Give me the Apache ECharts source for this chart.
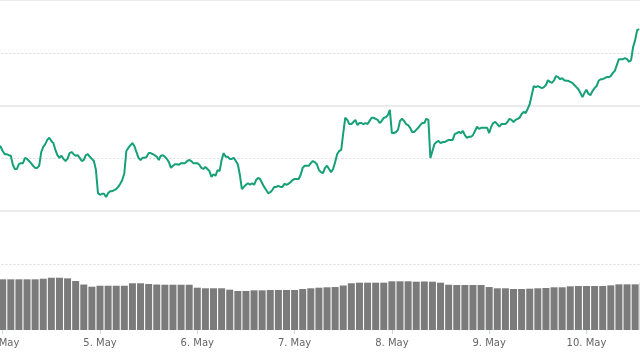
<!DOCTYPE html>
<html><head><meta charset="utf-8">
<script src="https://cdn.jsdelivr.net/npm/echarts@6/dist/echarts.min.js"></script>
<style>html,body{margin:0;padding:0;background:#fff}#c{width:640px;height:360px}</style>
</head><body><div id="c"></div>
<script>
// x values are hours since 4 May 00:00
const monthName = 'May';
const firstDay = 4;
const priceStartHour = -1;
const priceStepHours = 0.5;
const prices = [
  122.5,122.2,121.4,120.8,120.8,120.6,120.5,118.8,118.0,118.0,118.9,119.1,119.1,120.1,119.9,119.5,119.1,118.6,118.2,118.2,118.6,121.2,122.2,122.7,123.5,
  123.9,123.3,122.9,121.6,120.6,120.1,120.5,119.9,119.5,119.9,121.0,121.2,120.8,120.5,120.6,120.1,119.5,119.7,120.6,120.8,120.3,119.9,119.5,117.8,113.4,
  113.1,113.3,113.3,112.7,113.4,113.8,113.8,114.0,114.2,114.6,115.2,115.9,117.2,121.4,122.0,122.5,122.9,122.3,121.2,120.1,119.7,120.1,120.1,120.3,
  121.0,121.0,120.8,120.6,120.3,119.7,120.5,120.6,120.3,119.9,119.3,118.2,118.6,118.9,118.9,118.8,119.1,119.1,119.1,119.5,119.7,119.5,119.1,119.1,
  119.1,118.8,118.2,118.0,118.4,118.0,117.6,116.5,117.0,116.7,117.8,117.6,119.7,121.0,120.3,120.3,119.9,119.9,120.1,119.5,118.9,116.9,114.2,114.6,
  115.0,115.3,115.0,115.3,115.0,115.9,116.3,116.1,115.3,114.6,114.0,113.4,113.6,114.0,114.6,114.6,114.8,114.6,114.6,115.2,115.0,115.2,115.5,115.9,
  116.1,116.1,116.1,116.9,118.2,118.6,118.6,118.6,119.1,119.5,119.3,118.9,117.8,117.4,117.2,118.2,118.6,118.0,117.4,118.0,119.3,120.8,121.4,121.6,
  124.8,127.7,127.3,126.5,126.5,126.9,127.3,126.3,126.7,126.7,126.5,126.7,126.5,127.1,127.7,127.7,127.5,127.3,126.7,127.1,127.7,127.8,128.2,129.2,
  124.8,124.8,125.0,125.4,127.1,127.5,127.1,126.5,126.3,125.8,125.0,125.0,125.4,125.8,126.3,126.7,126.7,127.5,127.3,120.1,121.4,122.7,123.1,123.3,
  122.9,123.1,123.1,123.3,123.5,123.5,123.5,124.6,124.8,125.0,124.8,125.2,124.4,123.9,124.1,124.1,124.4,125.2,126.0,125.6,125.8,125.8,125.8,125.8,
  124.8,126.0,126.7,126.9,126.5,126.0,126.5,126.5,126.5,126.9,127.5,127.3,126.9,127.3,127.5,127.7,128.4,128.8,128.6,129.4,130.3,132.0,133.7,133.5,
  133.7,133.5,133.3,133.5,133.9,134.8,134.5,134.3,134.8,135.6,135.4,135.0,135.2,134.8,134.7,134.7,134.5,134.3,133.9,133.5,133.1,132.4,131.6,132.4,
  133.0,132.2,132.0,132.8,133.3,133.7,134.7,135.0,135.0,135.2,135.4,135.4,135.6,136.2,136.6,137.7,138.8,138.8,138.8,139.0,138.8,138.3,138.6,141.1,
  142.4,144.3,144.5
];
const volumeStartHour = 0;
const volumeStepHours = 2;
const volumes = [
  76.8,76.8,76.8,76.8,76.8,77.7,79.2,79.2,78.3,74.2,68.9,65.6,
  67.1,67.1,67.1,67.1,70.8,70.8,69.7,68.9,68.6,68.6,68.6,68.6,
  64.1,63.2,63.2,63.2,61.1,59.1,59.1,60.1,60.1,60.6,60.6,60.6,
  60.6,62.1,63.2,64.1,64.7,65.1,67.4,70.8,71.7,71.7,71.7,71.7,
  73.8,73.8,73.8,73.2,73.5,73.2,71.7,68.6,68.2,68.2,68.2,68.2,
  65.1,63.2,63.2,62.1,62.1,62.6,63.2,63.6,64.7,64.7,66.2,66.7,
  66.7,66.7,66.7,67.7,69.2,69.2,69.2,71.7
];
const priceMin = 100, priceMax = 150, priceStep = 10;
const solidPriceLines = [110, 130, 150];
const volumeMax = 100;
const xMin = -24, xMax = 157.2, xStep = 24;

const priceData = prices.map((p, i) => [priceStartHour + i * priceStepHours, p]);
const volumeData = volumes.map((v, i) => [volumeStartHour + i * volumeStepHours, v]);

const chart = echarts.init(document.getElementById('c'), null, {renderer: 'canvas'});
const gridLeft = -94.6, gridWidth = 734.6;
chart.setOption({
  animation: false,
  backgroundColor: '#ffffff',
  grid: [
    {left: gridLeft, width: gridWidth, top: 0, height: 264, outerBoundsMode: 'none', containLabel: false},
    {left: gridLeft, width: gridWidth, top: 264, height: 66, outerBoundsMode: 'none', containLabel: false}
  ],
  xAxis: [
    {type: 'value', gridIndex: 0, min: xMin, max: xMax, interval: xStep,
     axisLine: {show: false}, axisTick: {show: false}, axisLabel: {show: false}, splitLine: {show: false}},
    {type: 'value', gridIndex: 1, min: xMin, max: xMax, interval: xStep,
     axisLine: {show: false},
     axisTick: {show: true, length: 4, lineStyle: {color: '#ccd6eb'}},
     axisLabel: {show: true, color: '#666666', fontSize: 10, fontFamily: 'DejaVu Sans', margin: 8,
       formatter: v => (v % 24 === 0) ? (firstDay + v / 24) + '. ' + monthName : ''},
     splitLine: {show: false}}
  ],
  yAxis: [
    {type: 'value', gridIndex: 0, min: priceMin, max: priceMax, interval: priceStep,
     axisLine: {show: false}, axisTick: {show: false}, axisLabel: {show: false},
     splitLine: {show: true, lineStyle: {color: '#dcdcdc', type: [2, 2], width: 1}}},
    {type: 'value', gridIndex: 1, min: 0, max: volumeMax,
     axisLine: {show: false}, axisTick: {show: false}, axisLabel: {show: false}, splitLine: {show: false}}
  ],
  series: [
    {type: 'bar', xAxisIndex: 1, yAxisIndex: 1, data: volumeData, barWidth: 7,
     itemStyle: {color: '#7b7b7b'}, silent: true},
    {type: 'line', xAxisIndex: 0, yAxisIndex: 0, data: priceData, showSymbol: false,
     lineStyle: {color: '#15a077', width: 2}, itemStyle: {color: '#15a077'}, z: 5,
     markLine: {silent: true, symbol: 'none', label: {show: false}, z: 1,
       lineStyle: {color: '#ebebeb', type: 'solid', width: 2},
       data: solidPriceLines.map(v => ({yAxis: v}))}}
  ]
});
</script></body></html>
